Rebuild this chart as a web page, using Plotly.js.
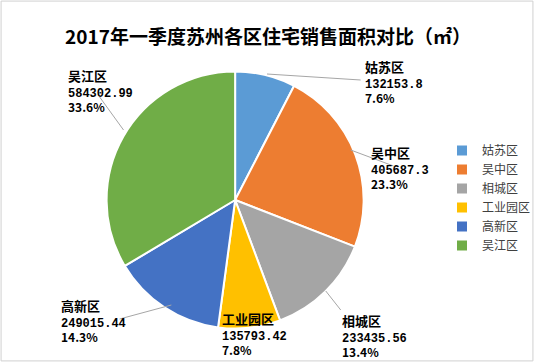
<!DOCTYPE html>
<html>
<head>
<meta charset="utf-8">
<script src="https://cdn.plot.ly/plotly-3.0.1.min.js"></script>
<style>html,body{margin:0;padding:0;background:#fff;}#chart{width:536px;height:362px;}</style>
</head>
<body>
<div id="chart"></div>
<script>
var categories = ["姑苏区", "吴中区", "相城区", "工业园区", "高新区", "吴江区"];
var areaValues = [132153.8, 405687.3, 233435.56, 135793.42, 249015.44, 584302.99];
var valueLabels = ["132153.8", "405687.3", "233435.56", "135793.42", "249015.44", "584302.99"];
var percentLabels = ["7.6%", "23.3%", "13.4%", "7.8%", "14.3%", "33.6%"];
var colors = ["#5B9BD5", "#ED7D31", "#A5A5A5", "#FFC000", "#4472C4", "#70AD47"];

var W = 536, H = 362;
function px(x) { return x / W; }
function py(y) { return 1 - y / H; }

// label placement (top-left of each label block) and leader lines, in pixels
var labelPos = [[364, 55], [370, 141], [341, 309], [221, 307], [59, 294], [66, 64]];
var leaders = [[[268, 74], [362, 80]], [[352, 150], [395, 166]], [[327, 291], [342, 310]],
               null, [[172, 305], [120, 319]], [[124, 130], [100, 97]]];

var annotations = categories.map(function (c, i) {
  return {
    xref: "paper", yref: "paper", x: px(labelPos[i][0]), y: py(labelPos[i][1]),
    xanchor: "left", yanchor: "top", align: "left", showarrow: false,
    text: "<b><span style=\"font-size:13px\">" + c + "</span></b><br><b><span style=\"font-family:'Liberation Mono'\">" + valueLabels[i] +
          "</span></b><br><b>" + percentLabels[i] + "</b>",
    font: { family: "Noto Sans CJK SC", size: 12, color: "#000" }
  };
});

var shapes = [{ type: "rect", xref: "paper", yref: "paper", x0: 0.002, x1: 0.998, y0: 0.003, y1: 0.997,
                line: { color: "#d0d0d0", width: 1 } }];
leaders.forEach(function (l) {
  if (!l) return;
  shapes.push({ type: "line", xref: "paper", yref: "paper",
    x0: px(l[0][0]), y0: py(l[0][1]), x1: px(l[1][0]), y1: py(l[1][1]),
    line: { color: "#a6a6a6", width: 1 } });
});

var cx = 236, cy = 200, r = 129;
var data = [{
  type: "pie", labels: categories, values: areaValues, sort: false, direction: "clockwise", rotation: 0,
  textinfo: "none", hoverinfo: "label+value+percent",
  marker: { colors: colors, line: { color: "#fff", width: 2 } },
  domain: { x: [px(cx - r), px(cx + r)], y: [py(cy + r), py(cy - r)] }
}];

var layout = {
  width: W, height: H, margin: { l: 0, r: 0, t: 0, b: 0 },
  paper_bgcolor: "#fff",
  title: { text: "<b>2017年一季度苏州各区住宅销售面积对比（㎡）</b>", x: 0.5, xanchor: "center",
           y: py(37), yanchor: "middle", yref: "paper",
           font: { family: "Noto Sans CJK SC", size: 19, color: "#000" } },
  showlegend: true,
  legend: { x: px(444), y: py(136), xanchor: "left", yanchor: "top", itemwidth: 30,
            font: { family: "Noto Sans CJK SC", size: 12, color: "#404040" }, bgcolor: "rgba(0,0,0,0)" },
  annotations: annotations, shapes: shapes
};

Plotly.newPlot("chart", data, layout, { displayModeBar: false, staticPlot: true });
</script>
</body>
</html>
